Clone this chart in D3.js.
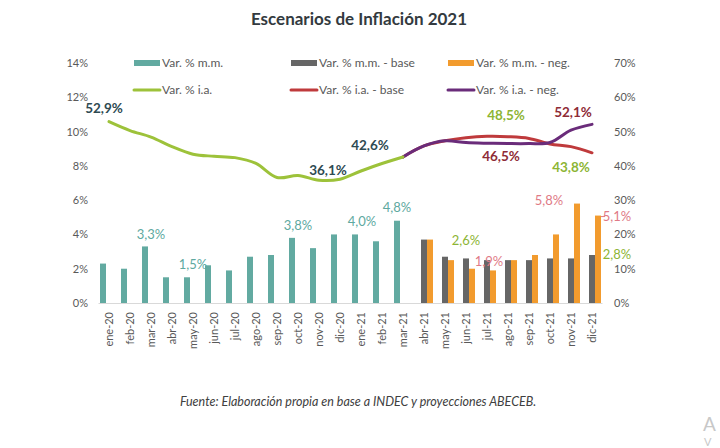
<!DOCTYPE html>
<html><head><meta charset="utf-8">
<script src="https://cdn.jsdelivr.net/npm/d3@7"></script>
<style>
body{margin:0;background:#fff;}
svg{display:block;font-family:Lato,"Open Sans",sans-serif;}
</style></head>
<body><svg id="c" width="720" height="448"></svg>
<script>
const categories = ["ene-20","feb-20","mar-20","abr-20","may-20","jun-20","jul-20","ago-20","sep-20","oct-20","nov-20","dic-20","ene-21","feb-21","mar-21","abr-21","may-21","jun-21","jul-21","ago-21","sep-21","oct-21","nov-21","dic-21"];
// monthly % (left axis)
const mmHist = [2.3,2.0,3.3,1.5,1.5,2.2,1.9,2.7,2.8,3.8,3.2,4.0,4.0,3.6,4.8,null,null,null,null,null,null,null,null,null];
const mmBase = [null,null,null,null,null,null,null,null,null,null,null,null,null,null,null,3.7,2.7,2.6,2.5,2.5,2.5,2.6,2.6,2.8];
const mmNeg  = [null,null,null,null,null,null,null,null,null,null,null,null,null,null,null,3.7,2.5,2.0,1.9,2.5,2.8,4.0,5.8,5.1];
// year-on-year % (right axis)
const iaHist = [52.9,50.3,48.4,45.6,43.4,42.8,42.4,40.7,36.6,37.2,35.8,36.1,38.5,40.7,42.6,null,null,null,null,null,null,null,null,null];
const iaBase = [null,null,null,null,null,null,null,null,null,null,null,null,null,null,42.6,45.8,47.3,48.2,48.6,48.5,48.0,46.4,45.6,43.8];
const iaNeg  = [null,null,null,null,null,null,null,null,null,null,null,null,null,null,42.6,45.8,47.3,46.8,46.6,46.5,46.5,46.8,50.4,52.1];
const leftTicks = [0,2,4,6,8,10,12,14];
const rightTicks = [0,10,20,30,40,50,60,70];
const legendItems = [
  {label:"Var. % m.m.", type:"bar", color:"#62aaa1"},
  {label:"Var. % m.m. - base", type:"bar", color:"#666666"},
  {label:"Var. % m.m. - neg.", type:"bar", color:"#f29b2e"},
  {label:"Var. % i.a.", type:"line", color:"#9dc23a"},
  {label:"Var. % i.a. - base", type:"line", color:"#bf3a3c"},
  {label:"Var. % i.a. - neg.", type:"line", color:"#6a2c7a"}
];
// annotation labels: [series, category, text, color, bold]
const annotations = [
  ["iaHist","ene-20","52,9%","#2e4a52",true],
  ["iaHist","dic-20","36,1%","#2e4a52",true],
  ["iaHist","mar-21","42,6%","#2e4a52",true],
  ["iaBase","ago-21","48,5%","#8db534",true],
  ["iaNeg","ago-21","46,5%","#8e2b36",true],
  ["iaNeg","dic-21","52,1%","#8e2b36",true],
  ["iaBase","dic-21","43,8%","#8db534",true],
  ["mmHist","mar-20","3,3%","#5ea9a0",false],
  ["mmHist","may-20","1,5%","#5ea9a0",false],
  ["mmHist","oct-20","3,8%","#5ea9a0",false],
  ["mmHist","ene-21","4,0%","#5ea9a0",false],
  ["mmHist","mar-21","4,8%","#5ea9a0",false],
  ["mmBase","jun-21","2,6%","#8db534",false],
  ["mmNeg","jul-21","1,9%","#e07a86",false],
  ["mmNeg","nov-21","5,8%","#e07a86",false],
  ["mmNeg","dic-21","5,1%","#e07a86",false],
  ["mmBase","dic-21","2,8%","#8db534",false]
];

const svg = d3.select("#c");
const x = d3.scaleBand().domain(categories).range([98.5,602.5]).padding(0);
const xs = d3.scaleBand().domain(["mm","base","neg"]).range([x.bandwidth()/2-9, x.bandwidth()/2+9]);
const yL = d3.scaleLinear().domain([0,14]).range([303,63]);
const yR = d3.scaleLinear().domain([0,70]).range([303,63]);
const cx = c => x(c) + x.bandwidth()/2;

// title
svg.append("text").attr("x",359).attr("y",25).attr("text-anchor","middle")
  .attr("font-size",17).attr("font-weight","bold").attr("fill","#333a40")
  .text("Escenarios de Inflación 2021");

// axes
const axL = svg.append("g").attr("transform","translate(90,0)")
  .call(d3.axisLeft(yL).tickValues(leftTicks).tickFormat(d=>d+"%").tickSize(0).tickPadding(2));
const axR = svg.append("g").attr("transform","translate(612,0)")
  .call(d3.axisRight(yR).tickValues(rightTicks).tickFormat(d=>d+"%").tickSize(0).tickPadding(2));
[axL,axR].forEach(a=>{a.select(".domain").remove();a.selectAll("text").attr("font-size",11).attr("fill","#595959").attr("font-family","Lato,sans-serif");});

// baseline
svg.append("line").attr("x1",x.range()[0]).attr("x2",x.range()[1]).attr("y1",yL(0)+0.5).attr("y2",yL(0)+0.5)
  .attr("stroke","#d9d9d9").attr("stroke-width",1);

// x labels
const axB = svg.append("g").attr("transform",`translate(0,${yL(0)})`)
  .call(d3.axisBottom(x).tickSize(0).tickPadding(0));
axB.select(".domain").remove();
axB.selectAll("text").attr("font-size",11).attr("fill","#595959").attr("font-family","Lato,sans-serif")
  .attr("transform","rotate(-90)").attr("text-anchor","end").attr("x",-9).attr("y",0).attr("dy","0.35em");

// bars
const barSeries = [["mm",mmHist,"#62aaa1"],["base",mmBase,"#666666"],["neg",mmNeg,"#f29b2e"]];
barSeries.forEach(([k,vals,col])=>{
  svg.append("g").selectAll("rect").data(categories.map((c,i)=>({c,v:vals[i]})).filter(d=>d.v!=null))
    .join("rect").attr("x",d=>x(d.c)+xs(k)).attr("width",xs.bandwidth())
    .attr("y",d=>yL(d.v)).attr("height",d=>yL(0)-yL(d.v)).attr("fill",col);
});

// lines
const lineGen = d3.line().defined(d=>d.v!=null).x(d=>cx(d.c)).y(d=>yR(d.v)).curve(d3.curveCatmullRom.alpha(0.5));
const lineSeries = [[iaBase,"#bf3a3c"],[iaNeg,"#6a2c7a"],[iaHist,"#9dc23a"]];
lineSeries.forEach(([vals,col])=>{
  const pts = categories.map((c,i)=>({c,v:vals[i]})).filter(d=>d.v!=null);
  svg.append("path").datum(pts).attr("d",lineGen).attr("fill","none").attr("stroke",col)
    .attr("stroke-width",3).attr("stroke-linecap","round").attr("stroke-linejoin","round");
});

// annotations
const seriesMap = {mmHist,mmBase,mmNeg,iaHist,iaBase,iaNeg};
const offsets = {
  "52,9%":[-5,-13],"36,1%":[-12,-9],"42,6%":[-33,-12],"48,5%":[-2,-21],"46,5%":[-7,13],
  "52,1%":[-19,-12],"43,8%":[-21,14],"3,3%":[0,-12],"1,5%":[0,-13],"3,8%":[0,-12],
  "4,0%":[1,-13],"4,8%":[-6,-13],"2,6%":[0,-18],"1,9%":[2,-9],"5,8%":[-22,-3],
  "5,1%":[25,1],"2,8%":[25,-1]
};
annotations.forEach(([s,c,t,col,bold])=>{
  const v = seriesMap[s][categories.indexOf(c)];
  const y = s.startsWith("ia") ? yR(v) : yL(v);
  const o = offsets[t];
  svg.append("text").attr("x",cx(c)+o[0]).attr("y",y+o[1]).attr("dy","0.35em")
    .attr("text-anchor","middle").attr("font-size",bold?13.5:13).attr("font-weight",bold?"bold":"normal")
    .attr("fill",col).text(t);
});
// leader for 5,1%
svg.append("line").attr("x1",cx("dic-21")+9).attr("x2",cx("dic-21")+13)
  .attr("y1",yL(5.1)+1).attr("y2",yL(5.1)+1).attr("stroke","#e07a86").attr("stroke-width",1);

// legend
legendItems.forEach((d,i)=>{
  const col = i%3, row = Math.floor(i/3);
  const lx = [134,291,448][col], ly = [63,90][row];
  const g = svg.append("g").attr("transform",`translate(${lx},${ly})`);
  if(d.type==="bar") g.append("rect").attr("x",0).attr("y",-3).attr("width",26).attr("height",6).attr("fill",d.color);
  else g.append("line").attr("x1",0).attr("x2",26).attr("y1",0).attr("y2",0).attr("stroke",d.color).attr("stroke-width",3).attr("stroke-linecap","round");
  g.append("text").attr("x",28).attr("y",0).attr("dy","0.35em").attr("font-size",12).attr("fill","#595959").text(d.label);
});

// footer
svg.append("text").attr("x",358).attr("y",406).attr("text-anchor","middle").attr("font-size",12.5)
  .attr("font-style","italic").attr("fill","#404040")
  .text("Fuente: Elaboración propia en base a INDEC y proyecciones ABECEB.");
// partial watermark visible at the corner
svg.append("text").attr("x",703).attr("y",431).attr("font-size",19).attr("fill","#c8c8c8").text("A");
svg.append("text").attr("x",704).attr("y",446).attr("font-size",11).attr("fill","#c8c8c8").text("V");
</script></body></html>
